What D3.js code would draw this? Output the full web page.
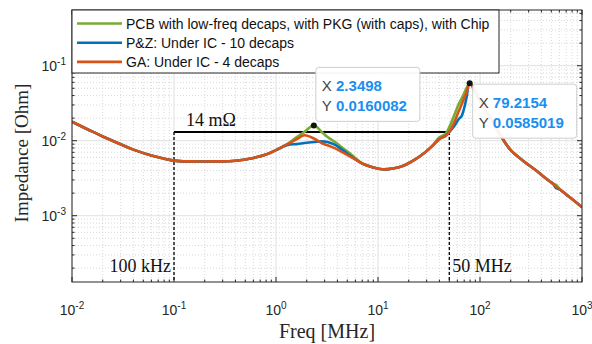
<!DOCTYPE html>
<html>
<head>
<meta charset="utf-8">
<script src="https://cdn.jsdelivr.net/npm/d3@7"></script>
<style>
  body { margin: 0; background: #fff; }
</style>
</head>
<body>
<div id="graph"></div>
<script>
// frequency grid (MHz) and the three impedance curves (Ohm)
let freq = [0.01, 0.015, 0.02, 0.03, 0.04, 0.06, 0.1, 0.15, 0.25, 0.4, 0.6, 0.8, 1.0, 1.3, 1.6, 1.9, 2.35, 2.8, 3.2, 3.8,
            4.5, 5.5, 7, 9, 11, 14, 18, 23, 28, 34, 40, 46, 50, 55, 62, 66, 70, 74, 79.2154, 100, 130, 160, 200, 270, 350,
            450, 520, 560, 610, 700, 850, 1000];

let gaZ = [0.0179, 0.01368, 0.01138, 0.00896, 0.0076, 0.00635, 0.00543, 0.0053, 0.0053, 0.0054, 0.0059, 0.00655, 0.0075,
           0.0090, 0.0105, 0.0118, 0.0107, 0.0093, 0.0087, 0.0079, 0.0070, 0.0060, 0.00497, 0.0044, 0.00416, 0.00426,
           0.00467, 0.0056, 0.00675, 0.0085, 0.0105, 0.0116, 0.0131, 0.0167, 0.0249, 0.0304, 0.0371, 0.0446, 0.0585019,
           0.0338, 0.019, 0.0116, 0.0075, 0.0053, 0.00406, 0.00308, 0.00267, 0.00244, 0.00223, 0.00192, 0.00156, 0.0013];

let pzZ = [0.0179, 0.01368, 0.01138, 0.00896, 0.0076, 0.00635, 0.00543, 0.0053, 0.0053, 0.0054, 0.0059, 0.00655, 0.0075,
           0.0088, 0.0090, 0.0093, 0.0096, 0.0098, 0.0096, 0.0088, 0.0075, 0.00615, 0.00497, 0.0044, 0.00416, 0.00426,
           0.00467, 0.0056, 0.00675, 0.0085, 0.0105, 0.0116, 0.0131, 0.0152, 0.0195, 0.0213, 0.0273, 0.0383, 0.0585019,
           0.0338, 0.019, 0.0116, 0.0075, 0.0053, 0.00406, 0.00308, 0.00267, 0.00232, 0.00223, 0.00192, 0.00156, 0.0013];

let pcbZ = [0.0179, 0.01368, 0.01138, 0.00896, 0.0076, 0.00635, 0.00543, 0.0053, 0.0053, 0.0054, 0.0059, 0.00655, 0.0075,
            0.0091, 0.0112, 0.0131, 0.0160082, 0.0131, 0.0112, 0.0096, 0.0080, 0.0065, 0.00497, 0.0044, 0.00416, 0.00426,
            0.00467, 0.0056, 0.00675, 0.0085, 0.0111, 0.0123, 0.0152, 0.0207, 0.0308, 0.0366, 0.0432, 0.0505, 0.0585019,
            0.0338, 0.019, 0.0116, 0.0075, 0.0053, 0.00406, 0.00308, 0.00267, 0.00256, 0.00223, 0.00192, 0.00156, 0.0013];

let seriesNames = ["PCB with low-freq decaps, with PKG (with caps), with Chip",
                   "P&Z: Under IC - 10 decaps",
                   "GA: Under IC - 4 decaps"];
let seriesColors = ["#77AC30", "#0072BD", "#D95319"];

let xTickExp = [-2, -1, 0, 1, 2, 3];
let yTickExp = [-3, -2, -1];

let tips = [{f: 2.3498, z: 0.0160082}, {f: 79.2154, z: 0.0585019}];
let targetZ = 0.0131;      // the "14 mΩ" line, where it sits in the figure
let bandF = [0.1, 50];     // 100 kHz .. 50 MHz

let width = 592;
let height = 344;
let L = 72, R = 582, T = 10, B = 282;

let x = d3.scaleLog().domain([1e-2, 1e3]).range([L, R]);
let y = d3.scaleLog().domain([Math.pow(10, -3.884), Math.pow(10, -0.257)]).range([B, T]);

let svg = d3.select('#graph')
  .append('svg')
  .attr('width', width)
  .attr('height', height)
  .style('font-family', 'Arial, "Liberation Sans", sans-serif');

// minor tick values for a log scale
let minors = (scale) => {
  let [a, b] = scale.domain();
  let out = [];
  for (let e = Math.floor(Math.log10(a)); e <= Math.ceil(Math.log10(b)); e++) {
    for (let k = 2; k <= 9; k++) {
      let v = k * Math.pow(10, e);
      if (v >= a && v <= b) out.push(v);
    }
  }
  return out;
};
let xMajor = xTickExp.map(e => Math.pow(10, e));
let yMajor = yTickExp.map(e => Math.pow(10, e));
let xMinor = minors(x);
let yMinor = minors(y);

// grid
let grid = svg.append('g');
grid.selectAll(null).data(xMinor).enter().append('line')
  .attr('x1', d => x(d)).attr('x2', d => x(d)).attr('y1', T).attr('y2', B)
  .attr('stroke', '#cfcfcf').attr('stroke-width', 0.8).attr('stroke-dasharray', '1,2');
grid.selectAll(null).data(yMinor).enter().append('line')
  .attr('y1', d => y(d)).attr('y2', d => y(d)).attr('x1', L).attr('x2', R)
  .attr('stroke', '#cfcfcf').attr('stroke-width', 0.8).attr('stroke-dasharray', '1,2');
grid.selectAll(null).data(xMajor).enter().append('line')
  .attr('x1', d => x(d)).attr('x2', d => x(d)).attr('y1', T).attr('y2', B)
  .attr('stroke', '#e0e0e0').attr('stroke-width', 1);
grid.selectAll(null).data(yMajor).enter().append('line')
  .attr('y1', d => y(d)).attr('y2', d => y(d)).attr('x1', L).attr('x2', R)
  .attr('stroke', '#e0e0e0').attr('stroke-width', 1);

// annotation: 14 mOhm line and band edges
let ann = svg.append('g');
ann.append('line')
  .attr('x1', x(bandF[0])).attr('x2', x(bandF[1]))
  .attr('y1', y(targetZ)).attr('y2', y(targetZ))
  .attr('stroke', '#000').attr('stroke-width', 2);
ann.selectAll(null).data(bandF).enter().append('line')
  .attr('x1', d => x(d)).attr('x2', d => x(d))
  .attr('y1', y(targetZ)).attr('y2', B)
  .attr('stroke', '#000').attr('stroke-width', 1.3).attr('stroke-dasharray', '3,2');

// curves
svg.append('clipPath').attr('id', 'clip')
  .append('rect').attr('x', L).attr('y', T).attr('width', R - L).attr('height', B - T);

let series = [pcbZ, pzZ, gaZ];
let line = d3.line()
  .x((d, i) => x(freq[i]))
  .y(d => y(d))
  .curve(d3.curveCatmullRom.alpha(0.5));

svg.append('g').attr('clip-path', 'url(#clip)')
  .selectAll('path')
  .data(series)
  .enter()
  .append('path')
  .attr('d', d => line(d))
  .attr('fill', 'none')
  .attr('stroke', (d, i) => seriesColors[i])
  .attr('stroke-width', 2.6)
  .attr('stroke-linejoin', 'round');

// annotation text
let serif = '"Liberation Serif", "Times New Roman", serif';
svg.append('text').text('14 mΩ')
  .attr('x', x(bandF[0]) + 12).attr('y', y(targetZ) - 6)
  .style('font-family', serif).attr('font-size', 18).attr('fill', '#111');
svg.append('text').text('100 kHz')
  .attr('x', x(bandF[0]) - 3).attr('y', 272).attr('text-anchor', 'end')
  .style('font-family', serif).attr('font-size', 18).attr('fill', '#111');
svg.append('text').text('50 MHz')
  .attr('x', x(bandF[1]) + 3).attr('y', 272)
  .style('font-family', serif).attr('font-size', 18).attr('fill', '#111');

// axes box and ticks (inward, all sides)
let ax = svg.append('g').attr('stroke', '#262626');
ax.append('rect').attr('x', L).attr('y', T).attr('width', R - L).attr('height', B - T)
  .attr('fill', 'none').attr('stroke-width', 1);
let xt = xMajor.map(v => ({v: v, n: 5})).concat(xMinor.map(v => ({v: v, n: 2.5})));
let yt = yMajor.map(v => ({v: v, n: 5})).concat(yMinor.map(v => ({v: v, n: 2.5})));
ax.selectAll(null).data(xt).enter().append('line')
  .attr('x1', d => x(d.v)).attr('x2', d => x(d.v)).attr('y1', B).attr('y2', d => B - d.n);
ax.selectAll(null).data(xt).enter().append('line')
  .attr('x1', d => x(d.v)).attr('x2', d => x(d.v)).attr('y1', T).attr('y2', d => T + d.n);
ax.selectAll(null).data(yt).enter().append('line')
  .attr('y1', d => y(d.v)).attr('y2', d => y(d.v)).attr('x1', L).attr('x2', d => L + d.n);
ax.selectAll(null).data(yt).enter().append('line')
  .attr('y1', d => y(d.v)).attr('y2', d => y(d.v)).attr('x1', R).attr('x2', d => R - d.n);

// tick labels  10^e
let xl = svg.selectAll(null).data(xTickExp).enter().append('text')
  .attr('x', d => x(Math.pow(10, d))).attr('y', 315)
  .attr('text-anchor', 'middle').attr('font-size', 14).attr('fill', '#262626');
xl.append('tspan').text('10');
xl.append('tspan').text(d => d < 0 ? '-' + (-d) : d).attr('font-size', 10).attr('dy', -6);

let yl = svg.selectAll(null).data(yTickExp).enter().append('text')
  .attr('x', 66).attr('y', d => y(Math.pow(10, d)) + 5)
  .attr('text-anchor', 'end').attr('font-size', 14).attr('fill', '#262626');
yl.append('tspan').text('10');
yl.append('tspan').text(d => d < 0 ? '-' + (-d) : d).attr('font-size', 10).attr('dy', -6);

// axis titles
svg.append('text').text('Freq [MHz]')
  .attr('x', (L + R) / 2).attr('y', 338).attr('text-anchor', 'middle')
  .style('font-family', serif).attr('font-size', 20).attr('fill', '#262626');
svg.append('text').text('Impedance [Ohm]')
  .attr('transform', 'translate(28,' + ((T + B) / 2 + 7) + ') rotate(-90)')
  .attr('text-anchor', 'middle')
  .style('font-family', serif).attr('font-size', 19).attr('fill', '#262626');

// legend
let leg = svg.append('g');
leg.append('rect').attr('x', L).attr('y', T).attr('width', 427).attr('height', 63)
  .attr('fill', '#fff').attr('stroke', '#262626').attr('stroke-width', 1);
let rows = leg.selectAll(null).data(seriesNames).enter().append('g')
  .attr('transform', (d, i) => 'translate(0,' + (23.5 + i * 19.2) + ')');
rows.append('line').attr('x1', 77).attr('x2', 122).attr('y1', 0).attr('y2', 0)
  .attr('stroke', (d, i) => seriesColors[i]).attr('stroke-width', 2.6);
rows.append('text').text(d => d).attr('x', 126).attr('y', 5)
  .attr('font-size', 14).attr('fill', '#111');

// data tips
let tipBoxes = [{dx: 2, dy: -58, w: 104, h: 54}, {dx: 3, dy: 1, w: 104, h: 54}];
let tg = svg.selectAll(null).data(tips).enter().append('g');
tg.append('rect')
  .attr('x', (d, i) => x(d.f) + tipBoxes[i].dx)
  .attr('y', (d, i) => y(d.z) + tipBoxes[i].dy)
  .attr('width', (d, i) => tipBoxes[i].w).attr('height', (d, i) => tipBoxes[i].h)
  .attr('rx', 3)
  .attr('fill', 'rgba(255,255,255,0.93)').attr('stroke', '#cfcfcf');
let tt = (sel, lab, key, off) => {
  let t = sel.append('text')
    .attr('x', (d, i) => x(d.f) + tipBoxes[i].dx + 6)
    .attr('y', (d, i) => y(d.z) + tipBoxes[i].dy + off)
    .attr('font-size', 15);
  t.append('tspan').text(lab).attr('fill', '#444');
  t.append('tspan').text(d => ' ' + d[key]).attr('fill', '#1a8ff0').attr('font-weight', 'bold');
};
tt(tg, 'X', 'f', 24);
tt(tg, 'Y', 'z', 44);
tg.append('circle')
  .attr('cx', d => x(d.f)).attr('cy', d => y(d.z)).attr('r', 3)
  .attr('fill', '#111');
</script>
</body>
</html>
